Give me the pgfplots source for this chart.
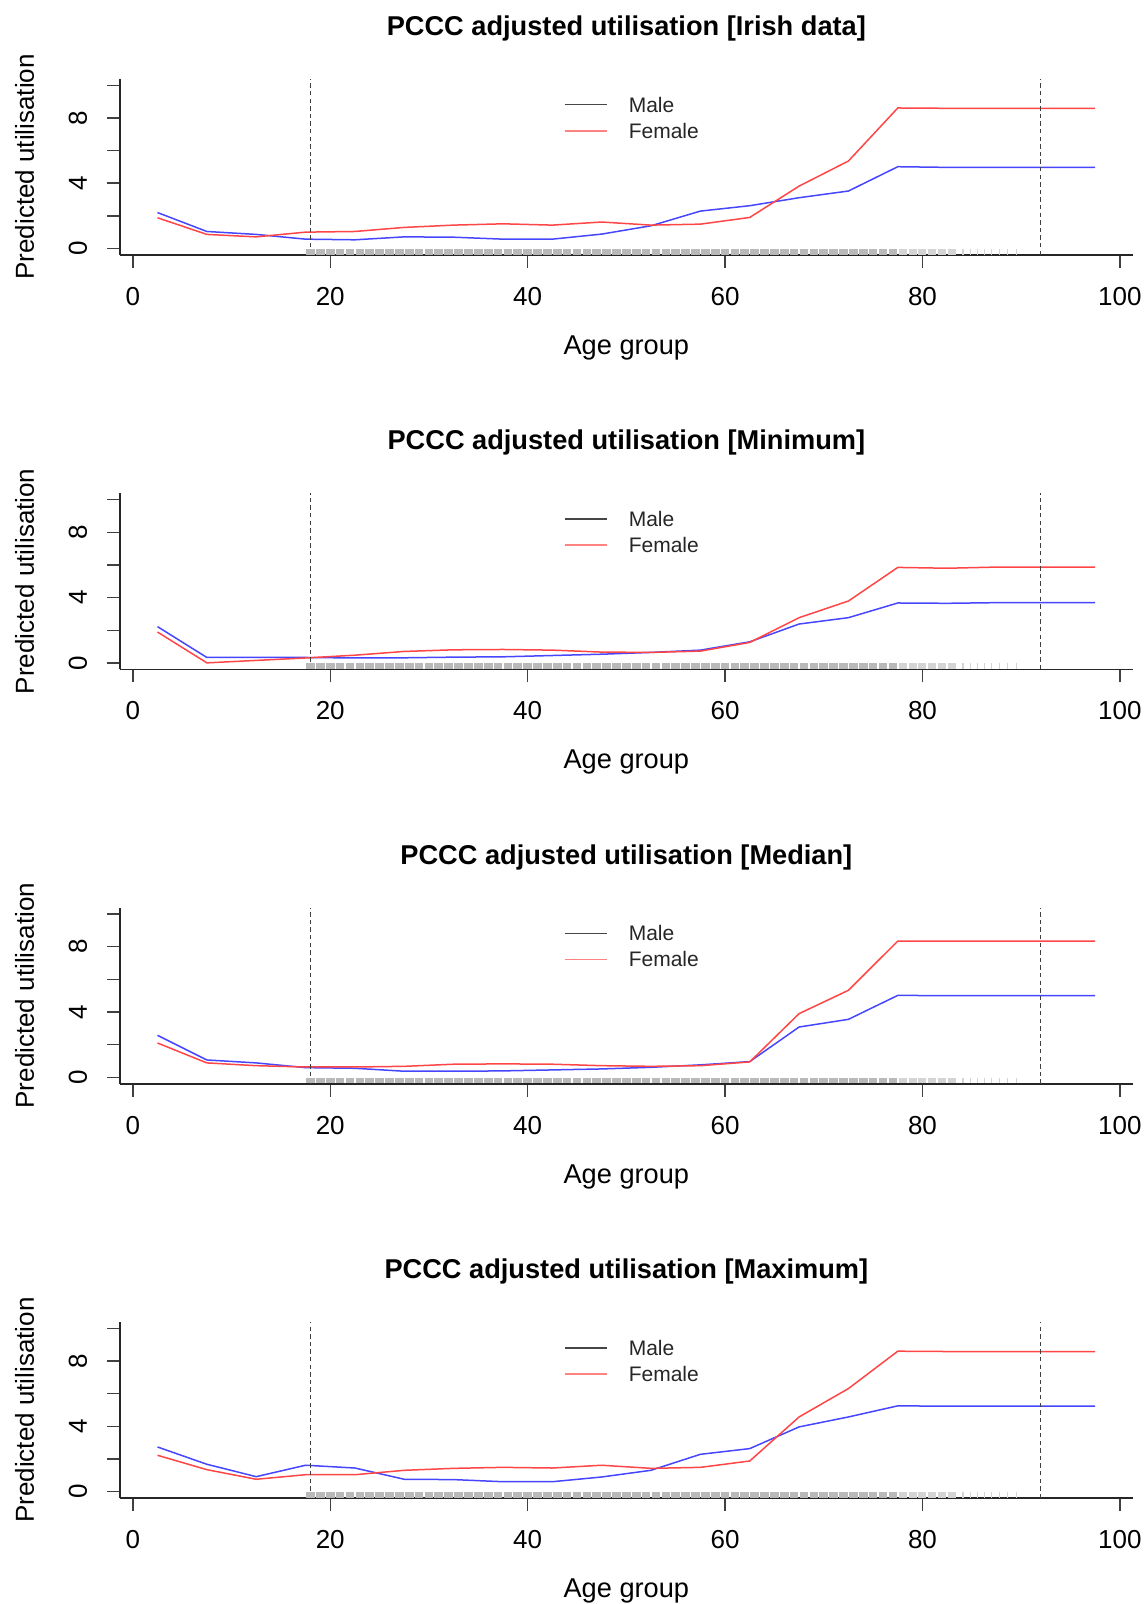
\documentclass[border=0pt]{standalone}
\usepackage{pgfplots}
\pgfplotsset{compat=1.18}
\usepackage{fontspec}
\setmainfont{Liberation Sans}
\definecolor{mblue}{RGB}{70,70,255}
\definecolor{fred}{RGB}{255,70,70}
\definecolor{legred}{RGB}{255,130,130}
\definecolor{legblack}{RGB}{70,70,70}
\definecolor{ruggray}{RGB}{185,185,185}
\definecolor{ruglight}{RGB}{212,212,212}
\pgfplotsset{
  panel/.style={
    scale only axis, width=506.35pt, height=88.1pt,
    xmin=-1.3, xmax=101.3, ymin=-0.4, ymax=10.4,
    axis x line*=bottom, axis y line*=left,
    axis line style={line width=0.8pt, black!85},
    xtick={0,20,40,60,80,100}, ytick={0,2,4,6,8,10},
    yticklabels={0,,4,,8,},
    tick align=outside, major tick length=6.5pt,
    tick style={line width=0.7pt, black!75},
    /pgf/number format/assume math mode=true,
    tick label style={font=\fontsize{13}{15}\selectfont},
    xticklabel style={anchor=center, yshift=-14.3pt},
    yticklabel style={xshift=-14.5pt, rotate=90, anchor=center},
    every axis x label/.style={at={(axis description cs:0.5,-0.528)}, anchor=center, font=\fontsize{13.6}{16}\selectfont},
    every axis y label/.style={at={(axis description cs:-0.0943,0.5)}, rotate=90, anchor=center, font=\fontsize{13}{16}\selectfont},
    every axis title/.style={at={(axis description cs:0.5,1.285)}, anchor=center, font=\fontsize{13.6}{16}\selectfont\bfseries},
    xlabel={Age group}, ylabel={Predicted utilisation},
  }
}
\newcommand{\panel}[4]{%
\begin{axis}[panel, at={(60pt,#1)}, anchor=south west, title={#2}]
\addplot[forget plot, ruggray, only marks, mark=-, mark size=2.17pt, mark options={line width=2.9pt, draw=ruggray}] coordinates {
(18,-0.2)(19,-0.2)(20,-0.2)(21,-0.2)(22,-0.2)(23,-0.2)(24,-0.2)(25,-0.2)(26,-0.2)(27,-0.2)
(28,-0.2)(29,-0.2)(30,-0.2)(31,-0.2)(32,-0.2)(33,-0.2)(34,-0.2)(35,-0.2)(36,-0.2)(37,-0.2)
(38,-0.2)(39,-0.2)(40,-0.2)(41,-0.2)(42,-0.2)(43,-0.2)(44,-0.2)(45,-0.2)(46,-0.2)(47,-0.2)
(48,-0.2)(49,-0.2)(50,-0.2)(51,-0.2)(52,-0.2)(53,-0.2)(54,-0.2)(55,-0.2)(56,-0.2)(57,-0.2)
(58,-0.2)(59,-0.2)(60,-0.2)(61,-0.2)(62,-0.2)(63,-0.2)(64,-0.2)(65,-0.2)(66,-0.2)(67,-0.2)
(68,-0.2)(69,-0.2)(70,-0.2)(71,-0.2)(72,-0.2)(73,-0.2)(74,-0.2)(75,-0.2)(76,-0.2)(77,-0.2)};
\addplot[forget plot, ruglight, only marks, mark=-, mark size=2.0pt, mark options={line width=2.9pt, draw=ruglight}] coordinates {
(78,-0.2)(79,-0.2)(80,-0.2)(81,-0.2)(82,-0.2)(83,-0.2)};
\addplot[forget plot, ruglight, only marks, mark=|, mark size=1.45pt, mark options={line width=0.6pt, draw=ruglight}] coordinates {
(84.1,-0.2)(84.9,-0.2)(85.6,-0.2)(86.3,-0.2)(87.0,-0.2)(87.8,-0.2)(88.6,-0.2)(89.5,-0.2)};
\addplot[forget plot, mblue, line width=0.75pt] coordinates {#3};
\addplot[forget plot, fred, line width=0.75pt] coordinates {#4};
\addplot[forget plot, black!75, line width=0.55pt, dash pattern=on 2.2pt off 1.6pt] coordinates {(18,-0.4) (18,10.4)};
\addplot[forget plot, black!75, line width=0.55pt, dash pattern=on 2.2pt off 1.6pt] coordinates {(92,-0.4) (92,10.4)};
\draw[legblack, line width=0.7pt] (axis description cs:0.4394,0.853) -- (axis description cs:0.4806,0.853);
\draw[legred, line width=0.9pt] (axis description cs:0.4394,0.7055) -- (axis description cs:0.4806,0.7055);
\node[anchor=west, inner sep=0pt, font=\fontsize{10.5}{12}\selectfont, text=black!85] at (axis description cs:0.502,0.853) {Male};
\node[anchor=west, inner sep=0pt, font=\fontsize{10.5}{12}\selectfont, text=black!85] at (axis description cs:0.502,0.7055) {Female};
\end{axis}}
\begin{document}
\begin{tikzpicture}
\useasboundingbox (0,0) rectangle (573pt,802pt);
\panel{674.5pt}{PCCC adjusted utilisation [Irish data]}%
{(2.5,2.2)(7.5,1.04)(12.5,0.86)(17.5,0.57)(22.5,0.53)(27.5,0.71)(32.5,0.69)(37.5,0.57)(42.5,0.57)(47.5,0.88)(52.5,1.39)(57.5,2.29)(62.5,2.62)(67.5,3.11)(72.5,3.52)(77.5,5.01)(82.5,4.97)(87.5,4.97)(92.5,4.97)(97.5,4.97)}%
{(2.5,1.88)(7.5,0.86)(12.5,0.71)(17.5,1.0)(22.5,1.04)(27.5,1.29)(32.5,1.43)(37.5,1.51)(42.5,1.43)(47.5,1.62)(52.5,1.43)(57.5,1.49)(62.5,1.90)(67.5,3.82)(72.5,5.36)(77.5,8.61)(82.5,8.59)(87.5,8.58)(92.5,8.58)(97.5,8.58)}
\panel{467.3pt}{PCCC adjusted utilisation [Minimum]}%
{(2.5,2.22)(7.5,0.33)(12.5,0.33)(17.5,0.33)(22.5,0.3)(27.5,0.31)(32.5,0.35)(37.5,0.37)(42.5,0.45)(47.5,0.53)(52.5,0.64)(57.5,0.78)(62.5,1.29)(67.5,2.38)(72.5,2.77)(77.5,3.67)(82.5,3.65)(87.5,3.69)(92.5,3.69)(97.5,3.69)}%
{(2.5,1.89)(7.5,0.0)(12.5,0.15)(17.5,0.3)(22.5,0.47)(27.5,0.70)(32.5,0.80)(37.5,0.82)(42.5,0.78)(47.5,0.66)(52.5,0.64)(57.5,0.72)(62.5,1.25)(67.5,2.77)(72.5,3.79)(77.5,5.85)(82.5,5.8)(87.5,5.87)(92.5,5.87)(97.5,5.87)}
\panel{260.1pt}{PCCC adjusted utilisation [Median]}%
{(2.5,2.57)(7.5,1.06)(12.5,0.88)(17.5,0.59)(22.5,0.55)(27.5,0.37)(32.5,0.37)(37.5,0.39)(42.5,0.45)(47.5,0.51)(52.5,0.61)(57.5,0.76)(62.5,0.96)(67.5,3.08)(72.5,3.55)(77.5,5.02)(82.5,5.0)(87.5,5.0)(92.5,5.0)(97.5,5.0)}%
{(2.5,2.10)(7.5,0.88)(12.5,0.71)(17.5,0.63)(22.5,0.63)(27.5,0.67)(32.5,0.80)(37.5,0.82)(42.5,0.80)(47.5,0.71)(52.5,0.67)(57.5,0.71)(62.5,0.94)(67.5,3.90)(72.5,5.33)(77.5,8.35)(82.5,8.35)(87.5,8.35)(92.5,8.35)(97.5,8.35)}
\panel{52.9pt}{PCCC adjusted utilisation [Maximum]}%
{(2.5,2.74)(7.5,1.68)(12.5,0.92)(17.5,1.62)(22.5,1.45)(27.5,0.76)(32.5,0.74)(37.5,0.61)(42.5,0.61)(47.5,0.90)(52.5,1.31)(57.5,2.29)(62.5,2.64)(67.5,3.97)(72.5,4.58)(77.5,5.26)(82.5,5.24)(87.5,5.24)(92.5,5.24)(97.5,5.24)}%
{(2.5,2.23)(7.5,1.35)(12.5,0.76)(17.5,1.04)(22.5,1.04)(27.5,1.31)(32.5,1.43)(37.5,1.49)(42.5,1.45)(47.5,1.62)(52.5,1.43)(57.5,1.49)(62.5,1.88)(67.5,4.58)(72.5,6.32)(77.5,8.61)(82.5,8.59)(87.5,8.59)(92.5,8.59)(97.5,8.59)}
\end{tikzpicture}
\end{document}
